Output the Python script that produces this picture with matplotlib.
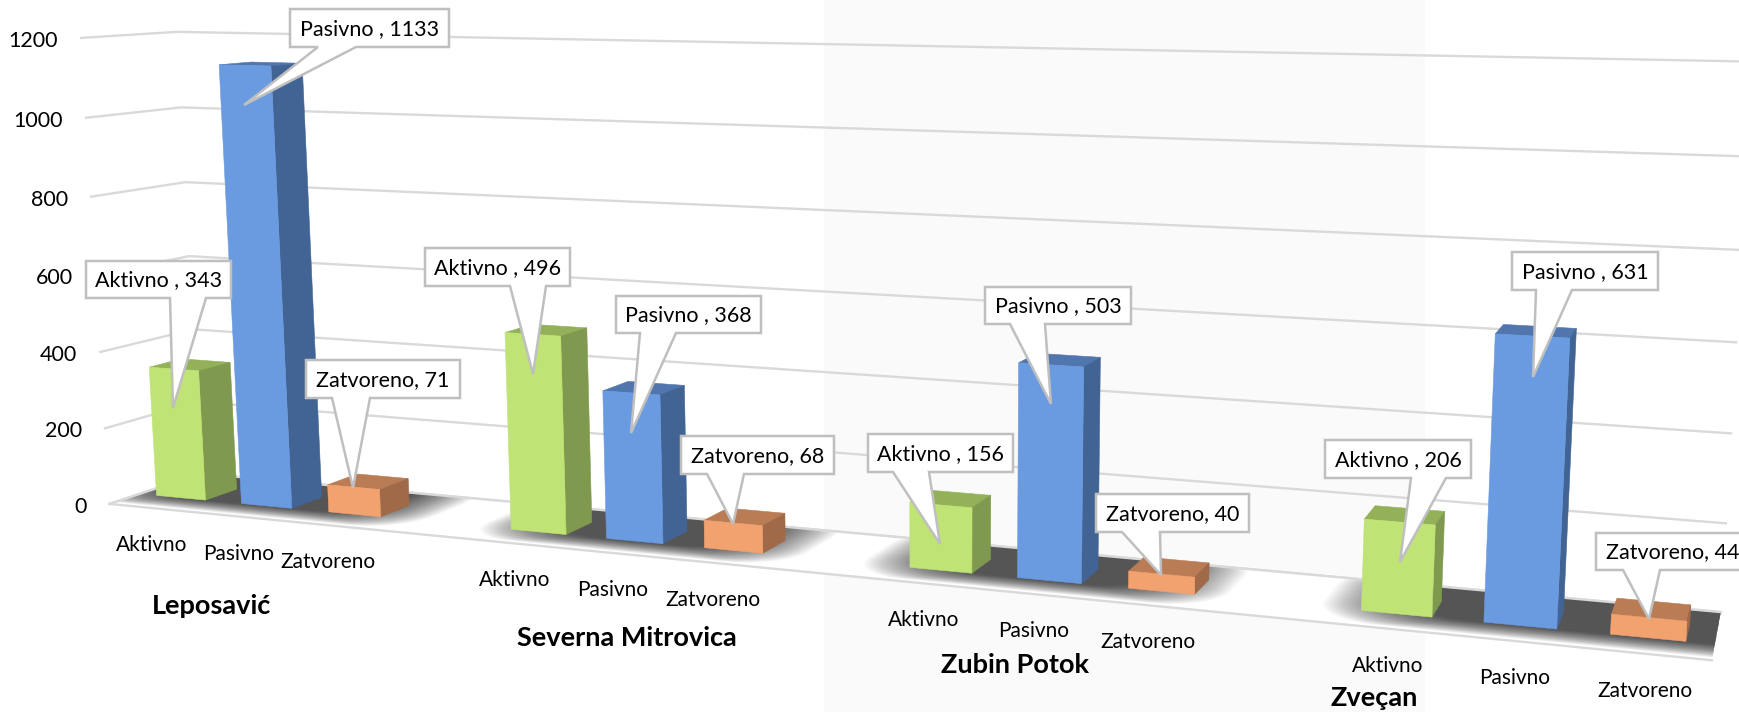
import numpy as np
import matplotlib
matplotlib.use("Agg")
import matplotlib.pyplot as plt
from matplotlib.patches import Polygon

plt.rcParams['font.family'] = ['Lato', 'DejaVu Sans']

# data
groups = ["Leposavić", "Severna Mitrovica", "Zubin Potok", "Zveçan"]
categories = ["Aktivno", "Pasivno", "Zatvoreno"]
aktivno = [343, 496, 156, 206]
pasivno = [1133, 368, 503, 631]
zatvoreno = [71, 68, 40, 44]
y_ticks = [0, 200, 400, 600, 800, 1000, 1200]
callout_names = ["Aktivno ", "Pasivno ", "Zatvoreno"]

# styles
faces = [
    ("#BFE374", "#7F9A4E", "#93B159"),
    ("#6A9AE0", "#426494", "#5176AE"),
    ("#F2A26F", "#A06A48", "#B97C55"),
]
GRID = "#D9D9D9"

# camera: (slot, depth, height) -> pixel, fitted on the corners of the walls in the picture
calib = [
    (0, 0, 0, 110, 503), (0, 0, 200, 105, 428), (0, 0, 400, 100, 352), (0, 0, 800, 91, 197),
    (0, 0, 1000, 86, 118), (0, 0, 1200, 81, 38),
    (0, 1, 0, 201, 475), (0, 1, 400, 193, 329), (0, 1, 600, 189, 256), (0, 1, 800, 185, 182),
    (0, 1, 1000, 181, 107), (0, 1, 1200, 178, 32),
    (15, 1, 0, 1720, 612), (15, 1, 200, 1726, 523), (15, 1, 400, 1732, 433), (15, 1, 600, 1736, 342),
    (15, 1, 1200, 1752, 62), (15, 0, 0, 1712, 661),
]
rows = []
for u, d, h, X, Y in calib:
    p = [u / 15, d, h / 1200, 1]
    X, Y = X / 1000, Y / 1000
    rows.append(p + [0, 0, 0, 0] + [-X * v for v in p])
    rows.append([0, 0, 0, 0] + p + [-Y * v for v in p])
cam = np.linalg.svd(np.array(rows))[2][-1].reshape(3, 4)


def project(u, d, h):
    q = cam @ np.array([u / 15, d, h / 1200, 1])
    return q[0] / q[2] * 1000, q[1] / q[2] * 1000


def rounded(u0, u1, d0, d1, ru, rd):
    # rounded rectangle on the floor
    pts = []
    arcs = [(u1 - ru, d0 + rd, -90, 0), (u1 - ru, d1 - rd, 0, 90), (u0 + ru, d1 - rd, 90, 180), (u0 + ru, d0 + rd, 180, 270)]
    for cu, cd, a0, a1 in arcs:
        for a in np.radians(np.linspace(a0, a1, 10)):
            pts.append(project(cu + ru * np.cos(a), cd + rd * np.sin(a), 0))
    return pts


fig = plt.figure(figsize=(17.39, 7.12), dpi=100)
ax = fig.add_axes([0, 0, 1, 1])
ax.set_xlim(0, 1739)
ax.set_ylim(712, 0)
ax.axis("off")

# pale band behind the middle of the picture
ax.axvspan(824, 1425, color="#FAFAFA", lw=0, zorder=0)

# walls
for v in y_ticks:
    a, b, c = project(0, 0, v), project(0, 1, v), project(15, 1, v)
    ax.plot([a[0], b[0], c[0]], [a[1], b[1], c[1]], color=GRID, lw=1.7, zorder=1)
    ax.text(a[0] - 23, a[1] + 3, str(v), ha="right", va="center", fontsize=15.5, color="black")

# floor
floor = [project(0, 0, 0), project(15, 0, 0), project(15, 1, 0), project(0, 1, 0)]
floor_patch = Polygon(floor, closed=True, fc="white", ec="none", zorder=1.5)
ax.add_patch(floor_patch)

# shadows, soft edges come from stacked polygons
shadow_spans = [(-0.6, 3.25), (3.85, 7.15), (7.73, 11.05), (11.85, 16.2)]
layers = 48
for u0, u1 in shadow_spans:
    for i in range(layers):
        t = i / (layers - 1)
        a0, a1 = u0 + 0.7 * t, u1 - 0.7 * t
        d0 = 0.05 + 0.27 * t
        pts = rounded(a0, a1, d0, 1.25, 0.55, 0.4)
        s = Polygon(pts, closed=True, fc="black", ec="none", alpha=0.021, lw=0, zorder=1.6)
        ax.add_patch(s)
        s.set_clip_path(floor_patch)

# floor outline goes over the shadow
for pair in [(0, 1), (3, 0), (3, 2)]:
    a, b = floor[pair[0]], floor[pair[1]]
    ax.plot([a[0], b[0]], [a[1], b[1]], color=GRID, lw=1.7, zorder=1.7)

# bars
series = [aktivno, pasivno, zatvoreno]
d0, d1 = 0.32, 0.67
for g in range(len(groups)):
    for c in range(len(categories)):
        s = 4 * g + c
        v = series[c][g]
        u0, u1 = s + 0.2, s + 0.78
        front, side, top = faces[c]
        ax.add_patch(Polygon([project(u0, d0, v), project(u1, d0, v), project(u1, d1, v), project(u0, d1, v)],
                             closed=True, fc=top, ec=top, lw=0.4, zorder=2))
        ax.add_patch(Polygon([project(u1, d0, 0), project(u1, d1, 0), project(u1, d1, v), project(u1, d0, v)],
                             closed=True, fc=side, ec=side, lw=0.4, zorder=2))
        ax.add_patch(Polygon([project(u0, d0, 0), project(u1, d0, 0), project(u1, d0, v), project(u0, d0, v)],
                             closed=True, fc=front, ec=front, lw=0.4, zorder=2))
        x, y = project(s + 0.5, 0, 0)
        ax.text(x, y + 37, categories[c], ha="center", va="center", fontsize=15, color="black", zorder=3)

# group labels
group_x = [211, 627, 1015, 1374]
group_y = [606, 638, 665, 698]
for name, x, y in zip(groups, group_x, group_y):
    ax.text(x, y, name, ha="center", va="center", fontsize=19.5, fontweight="bold", color="black", zorder=3)

# callouts: series index, group index, box left, right, top, bottom, wedge base left, right, tip x, y
callouts = [
    (0, 0, 86, 231, 261, 298, 170, 206, 173, 408),
    (1, 1, 616, 761, 296, 333, 640, 676, 631, 433),
    (0, 2, 868, 1013, 434, 472, 893, 929, 940, 544),
    (0, 3, 1325, 1471, 440, 478, 1411, 1446, 1400, 562),
    (1, 0, 290, 449, 9, 47, 318, 356, 244, 105),
    (0, 1, 425, 570, 248, 286, 510, 546, 533, 374),
    (1, 2, 985, 1131, 287, 324, 1010, 1045, 1051, 404),
    (1, 3, 1512, 1658, 252, 290, 1536, 1572, 1533, 377),
    (2, 0, 306, 460, 360, 398, 332, 370, 353, 488),
    (2, 1, 681, 834, 436, 474, 707, 744, 733, 524),
    (2, 2, 1096, 1249, 494, 532, 1122, 1160, 1161, 575),
    (2, 3, 1596, 1750, 533, 570, 1623, 1660, 1649, 619),
]
for c, g, l, r, t, b, w0, w1, tx, ty in callouts:
    pts = [(l, t), (r, t), (r, b), (w1, b), (tx, ty), (w0, b), (l, b)]
    ax.add_patch(Polygon(pts, closed=True, fc="white", ec="#BFBFBF", lw=1.8, joinstyle="miter", zorder=4))
    ax.text((l + r) / 2, (t + b) / 2 + 1, f"{callout_names[c]}, {series[c][g]}", ha="center", va="center",
            fontsize=15.5, color="black", zorder=5)

fig.savefig("out.png", dpi=100)
